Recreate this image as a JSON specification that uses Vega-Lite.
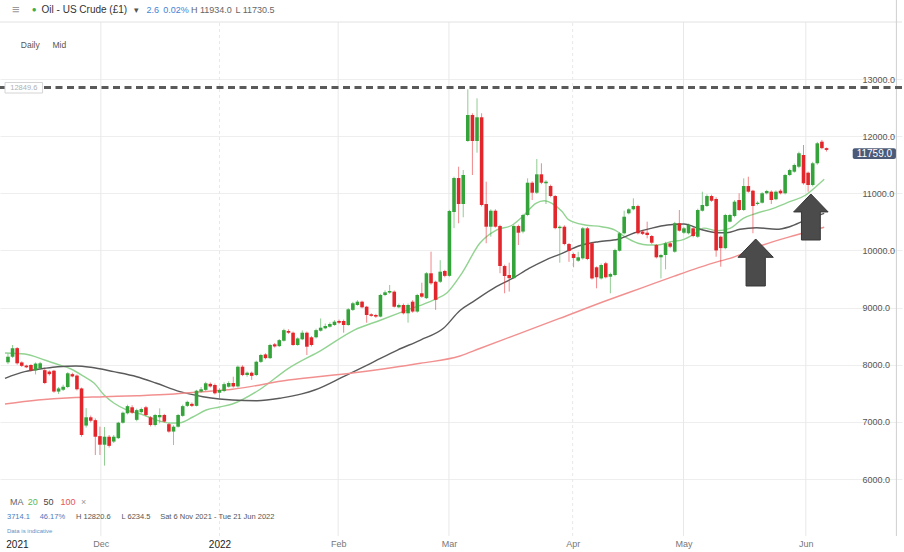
{
"$schema":"https://vega.github.io/schema/vega-lite/v6.json",
"width":902,"height":536,
"autosize":{"type":"none"},
"padding":{"left":0,"top":0,"right":2,"bottom":16},
"background":"white",
"config":{"view":{"stroke":null},"font":"Liberation Sans"},
"datasets":{
"candles":[
{"i":0,"o":8042,"h":8190,"l":8010,"c":8140},{"i":1,"o":8140,"h":8345,"l":8120,"c":8287},{"i":2,"o":8290,"h":8310,"l":8000,"c":8025},{"i":3,"o":8040,"h":8060,"l":7960,"c":7980},{"i":4,"o":7985,"h":8000,"l":7940,"c":7955},{"i":5,"o":7995,"h":8010,"l":7880,"c":7900},{"i":6,"o":7900,"h":8040,"l":7830,"c":8020},{"i":7,"o":7940,"h":8050,"l":7920,"c":8025},{"i":8,"o":7905,"h":7930,"l":7660,"c":7680},{"i":9,"o":7880,"h":7900,"l":7810,"c":7835},
{"i":10,"o":7895,"h":7910,"l":7510,"c":7530},{"i":11,"o":7530,"h":7610,"l":7490,"c":7585},{"i":12,"o":7560,"h":7650,"l":7540,"c":7615},{"i":13,"o":7610,"h":7870,"l":7590,"c":7850},{"i":14,"o":7835,"h":7860,"l":7780,"c":7795},{"i":15,"o":7810,"h":7830,"l":7550,"c":7570},{"i":16,"o":7585,"h":7600,"l":6740,"c":6770},{"i":17,"o":6935,"h":7240,"l":6900,"c":7080},{"i":18,"o":7080,"h":7110,"l":6990,"c":7020},{"i":19,"o":7030,"h":7060,"l":6420,"c":6740},
{"i":20,"o":6750,"h":6915,"l":6420,"c":6600},{"i":21,"o":6600,"h":6910,"l":6234,"c":6740},{"i":22,"o":6740,"h":6770,"l":6550,"c":6580},{"i":23,"o":6655,"h":6770,"l":6630,"c":6740},{"i":24,"o":6715,"h":7000,"l":6700,"c":6985},{"i":25,"o":6985,"h":7180,"l":6970,"c":7160},{"i":26,"o":7150,"h":7300,"l":7130,"c":7275},{"i":27,"o":7255,"h":7290,"l":7140,"c":7160},{"i":28,"o":7035,"h":7230,"l":7010,"c":7205},{"i":29,"o":7170,"h":7250,"l":7150,"c":7225},
{"i":30,"o":7255,"h":7280,"l":7100,"c":7120},{"i":31,"o":7080,"h":7100,"l":6920,"c":6945},{"i":32,"o":6945,"h":7140,"l":6920,"c":7120},{"i":33,"o":7080,"h":7237,"l":6975,"c":7120},{"i":34,"o":7120,"h":7140,"l":6990,"c":7005},{"i":35,"o":6960,"h":6980,"l":6810,"c":6830},{"i":36,"o":6830,"h":6940,"l":6595,"c":6915},{"i":37,"o":6915,"h":7140,"l":6900,"c":7120},{"i":38,"o":7105,"h":7300,"l":7090,"c":7275},{"i":39,"o":7280,"h":7370,"l":7260,"c":7350},
{"i":40,"o":7315,"h":7340,"l":7260,"c":7280},{"i":41,"o":7280,"h":7560,"l":7270,"c":7545},{"i":42,"o":7530,"h":7610,"l":7510,"c":7570},{"i":43,"o":7560,"h":7700,"l":7540,"c":7675},{"i":44,"o":7665,"h":7690,"l":7600,"c":7620},{"i":45,"o":7645,"h":7670,"l":7480,"c":7500},{"i":46,"o":7510,"h":7590,"l":7382,"c":7557},{"i":47,"o":7540,"h":7690,"l":7520,"c":7660},{"i":48,"o":7615,"h":7710,"l":7600,"c":7680},{"i":49,"o":7680,"h":7790,"l":7600,"c":7620},
{"i":50,"o":7620,"h":7985,"l":7600,"c":7965},{"i":51,"o":7965,"h":7990,"l":7800,"c":7820},{"i":52,"o":7820,"h":7880,"l":7790,"c":7860},{"i":53,"o":7860,"h":7880,"l":7735,"c":7805},{"i":54,"o":7820,"h":8070,"l":7800,"c":8050},{"i":55,"o":8050,"h":8190,"l":8030,"c":8170},{"i":56,"o":8180,"h":8200,"l":8095,"c":8115},{"i":57,"o":8115,"h":8365,"l":8100,"c":8345},{"i":58,"o":8357,"h":8380,"l":8300,"c":8320},{"i":59,"o":8325,"h":8450,"l":8310,"c":8430},
{"i":60,"o":8420,"h":8630,"l":8405,"c":8605},{"i":61,"o":8590,"h":8620,"l":8540,"c":8560},{"i":62,"o":8560,"h":8580,"l":8330,"c":8345},{"i":63,"o":8345,"h":8480,"l":8330,"c":8460},{"i":64,"o":8445,"h":8600,"l":8430,"c":8560},{"i":65,"o":8560,"h":8580,"l":8170,"c":8315},{"i":66,"o":8480,"h":8500,"l":8320,"c":8345},{"i":67,"o":8480,"h":8630,"l":8460,"c":8605},{"i":68,"o":8595,"h":8810,"l":8580,"c":8648},{"i":69,"o":8637,"h":8720,"l":8620,"c":8677},
{"i":70,"o":8665,"h":8740,"l":8650,"c":8712},{"i":71,"o":8695,"h":8780,"l":8680,"c":8753},{"i":72,"o":8765,"h":8790,"l":8710,"c":8735},{"i":73,"o":8765,"h":8790,"l":8560,"c":8695},{"i":74,"o":8695,"h":8990,"l":8680,"c":8970},{"i":75,"o":8960,"h":9100,"l":8940,"c":9075},{"i":76,"o":9045,"h":9130,"l":9030,"c":9103},{"i":77,"o":9103,"h":9120,"l":8990,"c":9005},{"i":78,"o":9015,"h":9030,"l":8735,"c":8870},{"i":79,"o":8882,"h":8900,"l":8840,"c":8855},
{"i":80,"o":8870,"h":8890,"l":8820,"c":8842},{"i":81,"o":8842,"h":9240,"l":8830,"c":9220},{"i":82,"o":9220,"h":9300,"l":9200,"c":9267},{"i":83,"o":9262,"h":9395,"l":9240,"c":9290},{"i":84,"o":9278,"h":9300,"l":9000,"c":9015},{"i":85,"o":9005,"h":9070,"l":8990,"c":9045},{"i":86,"o":9045,"h":9070,"l":8880,"c":8900},{"i":87,"o":8900,"h":9070,"l":8735,"c":9045},{"i":88,"o":9103,"h":9130,"l":8910,"c":8930},{"i":89,"o":8930,"h":9240,"l":8910,"c":9220},
{"i":90,"o":9250,"h":9435,"l":9170,"c":9190},{"i":91,"o":9165,"h":9620,"l":9150,"c":9600},{"i":92,"o":9600,"h":9978,"l":9400,"c":9425},{"i":93,"o":9452,"h":9470,"l":8960,"c":9135},{"i":94,"o":9452,"h":9830,"l":9430,"c":9628},{"i":95,"o":9640,"h":9660,"l":9530,"c":9555},{"i":96,"o":9555,"h":10710,"l":9540,"c":10690},{"i":97,"o":10672,"h":11290,"l":10390,"c":11267},{"i":98,"o":11267,"h":11465,"l":10475,"c":10812},{"i":99,"o":10812,"h":11407,"l":10580,"c":11320},
{"i":100,"o":11915,"h":12820,"l":11900,"c":12370},{"i":101,"o":12370,"h":12400,"l":11320,"c":11915},{"i":102,"o":11915,"h":12662,"l":11710,"c":12330},{"i":103,"o":12330,"h":12400,"l":10770,"c":10795},{"i":104,"o":10812,"h":11203,"l":10125,"c":10415},{"i":105,"o":10415,"h":10720,"l":10240,"c":10695},{"i":106,"o":10695,"h":10720,"l":10400,"c":10415},{"i":107,"o":10427,"h":10450,"l":9600,"c":9727},{"i":108,"o":9727,"h":9750,"l":9250,"c":9552},{"i":109,"o":9570,"h":9785,"l":9280,"c":9515},
{"i":110,"o":9515,"h":10450,"l":9500,"c":10427},{"i":111,"o":10427,"h":10450,"l":10095,"c":10310},{"i":112,"o":10330,"h":10640,"l":10300,"c":10620},{"i":113,"o":10620,"h":11262,"l":10600,"c":11185},{"i":114,"o":11185,"h":11210,"l":10882,"c":11010},{"i":115,"o":11010,"h":11600,"l":10990,"c":11332},{"i":116,"o":11332,"h":11525,"l":11160,"c":11185},{"i":117,"o":11175,"h":11230,"l":10812,"c":11203},{"i":118,"o":11127,"h":11150,"l":10930,"c":10952},{"i":119,"o":10952,"h":10970,"l":10370,"c":10390},
{"i":120,"o":10390,"h":10440,"l":9785,"c":10415},{"i":121,"o":10415,"h":10440,"l":10090,"c":10112},{"i":122,"o":10112,"h":10130,"l":9800,"c":9990},{"i":123,"o":9937,"h":9960,"l":9705,"c":9867},{"i":124,"o":9820,"h":9978,"l":9800,"c":9880},{"i":125,"o":9862,"h":10410,"l":9840,"c":10387},{"i":126,"o":10387,"h":10410,"l":9830,"c":9850},{"i":127,"o":10125,"h":10150,"l":9490,"c":9510},{"i":128,"o":9705,"h":9720,"l":9337,"c":9530},{"i":129,"o":9510,"h":9770,"l":9490,"c":9745},
{"i":130,"o":9775,"h":9800,"l":9510,"c":9530},{"i":131,"o":9540,"h":9610,"l":9250,"c":9587},{"i":132,"o":9570,"h":10030,"l":9550,"c":10007},{"i":133,"o":9995,"h":10320,"l":9980,"c":10300},{"i":134,"o":10300,"h":10695,"l":10280,"c":10590},{"i":135,"o":10650,"h":10740,"l":10630,"c":10720},{"i":136,"o":10720,"h":10912,"l":10700,"c":10777},{"i":137,"o":10777,"h":10800,"l":10280,"c":10300},{"i":138,"o":10330,"h":10350,"l":10270,"c":10290},{"i":139,"o":10310,"h":10503,"l":10212,"c":10270},
{"i":140,"o":10252,"h":10270,"l":10110,"c":10135},{"i":141,"o":10095,"h":10110,"l":9860,"c":9880},{"i":142,"o":9880,"h":9940,"l":9510,"c":9920},{"i":143,"o":9920,"h":10150,"l":9670,"c":10125},{"i":144,"o":10125,"h":10150,"l":10040,"c":10065},{"i":145,"o":9978,"h":10500,"l":9960,"c":10475},{"i":146,"o":10475,"h":10707,"l":10330,"c":10345},{"i":147,"o":10310,"h":10410,"l":10290,"c":10387},{"i":148,"o":10300,"h":10470,"l":10280,"c":10445},{"i":149,"o":10387,"h":10410,"l":10230,"c":10252},
{"i":150,"o":10240,"h":10730,"l":10220,"c":10707},{"i":151,"o":10695,"h":11028,"l":10680,"c":10795},{"i":152,"o":10777,"h":10980,"l":10760,"c":10952},{"i":153,"o":10952,"h":10975,"l":10850,"c":10870},{"i":154,"o":10900,"h":10930,"l":9890,"c":10000},{"i":155,"o":10240,"h":10260,"l":9715,"c":10040},{"i":156,"o":10040,"h":10640,"l":10020,"c":10620},{"i":157,"o":10503,"h":10640,"l":10490,"c":10620},{"i":158,"o":10602,"h":10880,"l":10580,"c":10853},{"i":159,"o":10882,"h":11000,"l":10690,"c":10707},
{"i":160,"o":10707,"h":11262,"l":10690,"c":11127},{"i":161,"o":11127,"h":11290,"l":11010,"c":11028},{"i":162,"o":11045,"h":11060,"l":10300,"c":10777},{"i":163,"o":10812,"h":10860,"l":10790,"c":10835},{"i":164,"o":10835,"h":11020,"l":10820,"c":11000},{"i":165,"o":11000,"h":11060,"l":10980,"c":11040},{"i":166,"o":11028,"h":11050,"l":10812,"c":10882},{"i":167,"o":10895,"h":11050,"l":10880,"c":11028},{"i":168,"o":11045,"h":11070,"l":10980,"c":11000},{"i":169,"o":11000,"h":11340,"l":10980,"c":11320},
{"i":170,"o":11320,"h":11430,"l":11300,"c":11407},{"i":171,"o":11378,"h":11520,"l":11360,"c":11495},{"i":172,"o":11465,"h":11728,"l":11440,"c":11700},{"i":173,"o":11670,"h":11845,"l":11150,"c":11175},{"i":174,"o":11360,"h":11380,"l":11028,"c":11145},{"i":175,"o":11145,"h":11550,"l":11120,"c":11525},{"i":176,"o":11525,"h":11900,"l":11500,"c":11875},{"i":177,"o":11903,"h":11934,"l":11770,"c":11790},{"i":178,"o":11790,"h":11800,"l":11730,"c":11759}
],
"ma":[
{"ma":"20","i":-0.65,"v":8205},{"ma":"20","i":3.66,"v":8187},{"ma":"20","i":7.96,"v":8082},{"ma":"20","i":11.2,"v":7995},{"ma":"20","i":13.7,"v":7925},{"ma":"20","i":16.6,"v":7790},{"ma":"20","i":18.7,"v":7680},{"ma":"20","i":20.9,"v":7470},{"ma":"20","i":23.0,"v":7330},{"ma":"20","i":25.9,"v":7207},{"ma":"20","i":29.5,"v":7120},{"ma":"20","i":32.3,"v":7032},{"ma":"20","i":35.2,"v":6980},{"ma":"20","i":37.4,"v":6985},{"ma":"20","i":40.2,"v":7085},{"ma":"20","i":43.1,"v":7207},{"ma":"20","i":46.0,"v":7260},{"ma":"20","i":48.8,"v":7312},{"ma":"20","i":54.6,"v":7557},{"ma":"20","i":61.0,"v":7937},{"ma":"20","i":68.2,"v":8257},{"ma":"20","i":75.3,"v":8607},{"ma":"20","i":81.1,"v":8782},{"ma":"20","i":86.8,"v":8957},{"ma":"20","i":92.5,"v":9132},{"ma":"20","i":95.5,"v":9260},{"ma":"20","i":98.7,"v":9600},{"ma":"20","i":102.6,"v":10125},{"ma":"20","i":106.2,"v":10357},{"ma":"20","i":109.7,"v":10445},{"ma":"20","i":111.9,"v":10590},{"ma":"20","i":114.8,"v":10825},{"ma":"20","i":116.6,"v":10870},{"ma":"20","i":118.3,"v":10825},{"ma":"20","i":120.5,"v":10680},{"ma":"20","i":121.9,"v":10540},{"ma":"20","i":125.5,"v":10445},{"ma":"20","i":129.1,"v":10415},{"ma":"20","i":132.0,"v":10357},{"ma":"20","i":134.1,"v":10240},{"ma":"20","i":137.0,"v":10125},{"ma":"20","i":139.1,"v":10095},{"ma":"20","i":141.3,"v":10095},{"ma":"20","i":144.2,"v":10153},{"ma":"20","i":147.0,"v":10195},{"ma":"20","i":149.2,"v":10287},{"ma":"20","i":151.3,"v":10390},{"ma":"20","i":154.2,"v":10345},{"ma":"20","i":157.0,"v":10387},{"ma":"20","i":159.9,"v":10562},{"ma":"20","i":162.8,"v":10650},{"ma":"20","i":166.4,"v":10737},{"ma":"20","i":170.0,"v":10853},{"ma":"20","i":173.5,"v":10970},{"ma":"20","i":175.7,"v":11115},{"ma":"20","i":177.5,"v":11245},
{"ma":"50","i":-0.65,"v":7762},{"ma":"50","i":3.66,"v":7878},{"ma":"50","i":7.96,"v":7937},{"ma":"50","i":10.8,"v":7965},{"ma":"50","i":14.8,"v":7977},{"ma":"50","i":18.0,"v":7955},{"ma":"50","i":23.0,"v":7878},{"ma":"50","i":28.0,"v":7790},{"ma":"50","i":32.3,"v":7675},{"ma":"50","i":37.4,"v":7528},{"ma":"50","i":42.4,"v":7440},{"ma":"50","i":46.0,"v":7400},{"ma":"50","i":48.8,"v":7382},{"ma":"50","i":54.2,"v":7370},{"ma":"50","i":59.6,"v":7420},{"ma":"50","i":63.9,"v":7490},{"ma":"50","i":66.7,"v":7557},{"ma":"50","i":73.2,"v":7802},{"ma":"50","i":78.9,"v":8025},{"ma":"50","i":84.7,"v":8257},{"ma":"50","i":89.7,"v":8432},{"ma":"50","i":94.7,"v":8637},{"ma":"50","i":98.3,"v":8950},{"ma":"50","i":101.1,"v":9100},{"ma":"50","i":106.2,"v":9365},{"ma":"50","i":109.7,"v":9510},{"ma":"50","i":113.3,"v":9685},{"ma":"50","i":116.9,"v":9832},{"ma":"50","i":120.5,"v":9948},{"ma":"50","i":124.1,"v":10077},{"ma":"50","i":128.4,"v":10153},{"ma":"50","i":132.7,"v":10195},{"ma":"50","i":136.3,"v":10310},{"ma":"50","i":139.8,"v":10387},{"ma":"50","i":143.4,"v":10445},{"ma":"50","i":147.0,"v":10462},{"ma":"50","i":150.6,"v":10370},{"ma":"50","i":154.2,"v":10310},{"ma":"50","i":156.3,"v":10310},{"ma":"50","i":159.2,"v":10370},{"ma":"50","i":162.8,"v":10397},{"ma":"50","i":167.1,"v":10370},{"ma":"50","i":170.0,"v":10415},{"ma":"50","i":173.5,"v":10532},{"ma":"50","i":177.5,"v":10650},
{"ma":"100","i":-0.65,"v":7312},{"ma":"100","i":6.5,"v":7382},{"ma":"100","i":13.7,"v":7423},{"ma":"100","i":20.9,"v":7440},{"ma":"100","i":28.0,"v":7458},{"ma":"100","i":35.2,"v":7482},{"ma":"100","i":42.4,"v":7528},{"ma":"100","i":48.8,"v":7570},{"ma":"100","i":61.0,"v":7732},{"ma":"100","i":75.3,"v":7860},{"ma":"100","i":89.7,"v":8025},{"ma":"100","i":98.3,"v":8152},{"ma":"100","i":102.6,"v":8284},{"ma":"100","i":111.2,"v":8545},{"ma":"100","i":119.8,"v":8805},{"ma":"100","i":130.5,"v":9132},{"ma":"100","i":137.7,"v":9340},{"ma":"100","i":144.9,"v":9550},{"ma":"100","i":149.9,"v":9690},{"ma":"100","i":154.2,"v":9800},{"ma":"100","i":157.0,"v":9860},{"ma":"100","i":164.2,"v":10095},{"ma":"100","i":171.4,"v":10270},{"ma":"100","i":177.5,"v":10405}
],
"months":[{"m":"Dec","i":20.2},{"m":"2022","i":46.0},{"m":"Feb","i":71.8},{"m":"Mar","i":95.9},{"m":"Apr","i":122.8},{"m":"May","i":146.9},{"m":"Jun","i":173.5}]
},
"layer":[
{"data":{"name":"candles"},"mark":{"type":"bar","size":3.6,"opacity":0},
 "encoding":{"x":{"field":"i","type":"quantitative","scale":{"domain":[-0.645,193.33],"nice":false,"zero":false},
   "axis":{"orient":"bottom","values":[1.94,20.2,46.0,71.8,95.9,122.8,146.9,173.5],
    "labelExpr":"datum.value < 5 ? '2021' : datum.value < 30 ? 'Dec' : datum.value < 60 ? '2022' : datum.value < 80 ? 'Feb' : datum.value < 110 ? 'Mar' : datum.value < 135 ? 'Apr' : datum.value < 160 ? 'May' : 'Jun'",
    "title":null,"grid":false,"domain":false,"ticks":false,"labelPadding":3,"labelFlush":false,"labelOverlap":false,"labelFont":"Liberation Sans",
    "labelFontSize":{"condition":{"test":"datum.value < 5 || (datum.value > 40 && datum.value < 60)","value":10},"value":9},
    "labelColor":{"condition":{"test":"datum.value < 5 || (datum.value > 40 && datum.value < 60)","value":"#222222"},"value":"#777777"}}},
  "y":{"field":"o","type":"quantitative","scale":{"domain":[5002.5,14382.5],"nice":false,"zero":false},
   "axis":{"orient":"right","offset":-42,"values":[6000,7000,8000,9000,10000,11000,12000,13000],"format":".1f","title":null,"grid":true,"gridColor":"#eeeeee","domain":false,"ticks":false,"labelPadding":2,"labelAlign":"left","labelFont":"Liberation Sans","labelFontSize":9,"labelColor":"#555555"}},
  "y2":{"field":"c"}}},
{"data":{"name":"months"},"mark":{"type":"rule","color":"#e8e8e8","strokeWidth":1},
 "encoding":{"x":{"field":"i","type":"quantitative"},
  "y":{"datum":5002.5,"type":"quantitative"},"y2":{"datum":13997.5},
  "strokeDash":{"condition":{"test":"datum.m=='2022'||datum.m=='Apr'","value":[3,3]},"value":[1,0]}}},
{"data":{"values":[{}]},"mark":{"type":"rule","color":"#e2e2e2"},
 "encoding":{"y":{"datum":13997.5,"type":"quantitative"}}},
{"data":{"values":[{}]},"mark":{"type":"rule","color":"#cfcfcf"},
 "encoding":{"x":{"datum":193.2,"type":"quantitative"}}},
{"data":{"values":[{}]},"mark":{"type":"rule","color":"#5a5a5a","strokeWidth":3,"strokeDash":[7,4.5]},
 "encoding":{"y":{"datum":12849.6,"type":"quantitative"}}},
{"data":{"name":"ma"},"mark":{"type":"line","strokeWidth":1.4,"interpolate":"monotone"},
 "encoding":{"x":{"field":"i","type":"quantitative"},
  "y":{"field":"v","type":"quantitative"},
  "color":{"field":"ma","type":"nominal","scale":{"domain":["20","50","100"],"range":["#92d392","#5a5a5a","#f29090"]},"legend":null}}},
{"data":{"name":"candles"},"mark":{"type":"rule","strokeWidth":1,"opacity":0.55},
 "encoding":{"x":{"field":"i","type":"quantitative"},
  "y":{"field":"l","type":"quantitative"},"y2":{"field":"h"},
  "color":{"condition":{"test":"datum.c >= datum.o","value":"#34a33a"},"value":"#e3262c"}}},
{"data":{"name":"candles"},"mark":{"type":"bar","size":3.6},
 "encoding":{"x":{"field":"i","type":"quantitative"},
  "y":{"field":"o","type":"quantitative"},
  "y2":{"field":"c"},
  "color":{"condition":{"test":"datum.c >= datum.o","value":"#34a33a"},"value":"#e3262c"}}},
{"data":{"values":[{}]},"mark":{"type":"point","shape":"M0,-1L0.75,-0.22L0.41,-0.22L0.41,1L-0.41,1L-0.41,-0.22L-0.75,-0.22Z","filled":true,"fill":"#4b4b4b","stroke":"#363636","strokeWidth":1,"size":2209,"opacity":1},
 "encoding":{"x":{"datum":162.6,"type":"quantitative"},"y":{"datum":9789,"type":"quantitative"}}},
{"data":{"values":[{}]},"mark":{"type":"point","shape":"M0,-1L0.75,-0.22L0.41,-0.22L0.41,1L-0.41,1L-0.41,-0.22L-0.75,-0.22Z","filled":true,"fill":"#4b4b4b","stroke":"#363636","strokeWidth":1,"size":2116,"opacity":1},
 "encoding":{"x":{"datum":174.6,"type":"quantitative"},"y":{"datum":10585,"type":"quantitative"}}},
{"data":{"values":[{}]},"mark":{"type":"rect","fill":"white","stroke":"#d4d4d4","strokeWidth":1},
 "encoding":{"x":{"datum":-0.645,"type":"quantitative"},"x2":{"datum":7.53},"y":{"datum":12939,"type":"quantitative"},"y2":{"datum":12755}}},
{"data":{"values":[{}]},"mark":{"type":"text","text":"12849.6","align":"center","baseline":"middle","fontSize":7.5,"color":"#b0b0b0"},
 "encoding":{"x":{"datum":3.44,"type":"quantitative"},"y":{"datum":12849.6,"type":"quantitative"}}},
{"data":{"values":[{}]},"mark":{"type":"rect","fill":"#4a5a77","cornerRadius":2},
 "encoding":{"x":{"datum":183.7,"type":"quantitative"},"x2":{"datum":193.1},"y":{"datum":11787,"type":"quantitative"},"y2":{"datum":11600}}},
{"data":{"values":[{}]},"mark":{"type":"text","text":"11759.0","align":"center","baseline":"middle","fontSize":10,"color":"white"},
 "encoding":{"x":{"datum":188.4,"type":"quantitative"},"y":{"datum":11693,"type":"quantitative"}}},
{"data":{"values":[{}]},"mark":{"type":"text","text":"≡","align":"left","baseline":"middle","fontSize":13,"color":"#9a9a9a"},"encoding":{"x":{"datum":0.86,"type":"quantitative"},"y":{"datum":14207.5,"type":"quantitative"}}},
{"data":{"values":[{}]},"mark":{"type":"text","text":"●","align":"center","baseline":"middle","fontSize":8,"color":"#3fae49"},"encoding":{"x":{"datum":5.7,"type":"quantitative"},"y":{"datum":14207.5,"type":"quantitative"}}},
{"data":{"values":[{}]},"mark":{"type":"text","text":"Oil - US Crude (£1)","align":"left","baseline":"middle","fontSize":10,"color":"#333333"},"encoding":{"x":{"datum":7.31,"type":"quantitative"},"y":{"datum":14207.5,"type":"quantitative"}}},
{"data":{"values":[{}]},"mark":{"type":"text","text":"▾","align":"left","baseline":"middle","fontSize":9,"color":"#555555"},"encoding":{"x":{"datum":27.3,"type":"quantitative"},"y":{"datum":14207.5,"type":"quantitative"}}},
{"data":{"values":[{}]},"mark":{"type":"text","text":"2.6","align":"left","baseline":"middle","fontSize":9,"color":"#3f83d6"},"encoding":{"x":{"datum":30.1,"type":"quantitative"},"y":{"datum":14207.5,"type":"quantitative"}}},
{"data":{"values":[{}]},"mark":{"type":"text","text":"0.02%","align":"left","baseline":"middle","fontSize":9,"color":"#3f83d6"},"encoding":{"x":{"datum":33.76,"type":"quantitative"},"y":{"datum":14207.5,"type":"quantitative"}}},
{"data":{"values":[{}]},"mark":{"type":"text","text":"H 11934.0","align":"left","baseline":"middle","fontSize":9,"color":"#666666"},"encoding":{"x":{"datum":39.8,"type":"quantitative"},"y":{"datum":14207.5,"type":"quantitative"}}},
{"data":{"values":[{}]},"mark":{"type":"text","text":"L 11730.5","align":"left","baseline":"middle","fontSize":9,"color":"#666666"},"encoding":{"x":{"datum":49.5,"type":"quantitative"},"y":{"datum":14207.5,"type":"quantitative"}}},
{"data":{"values":[{}]},"mark":{"type":"text","text":"Daily","align":"left","baseline":"middle","fontSize":8.5,"color":"#555555"},"encoding":{"x":{"datum":2.8,"type":"quantitative"},"y":{"datum":13595,"type":"quantitative"}}},
{"data":{"values":[{}]},"mark":{"type":"text","text":"Mid","align":"left","baseline":"middle","fontSize":8.5,"color":"#555555"},"encoding":{"x":{"datum":9.68,"type":"quantitative"},"y":{"datum":13595,"type":"quantitative"}}},
{"data":{"values":[{}]},"mark":{"type":"text","text":"MA","align":"left","baseline":"middle","fontSize":9,"color":"#666666"},"encoding":{"x":{"datum":0.43,"type":"quantitative"},"y":{"datum":5597.5,"type":"quantitative"}}},
{"data":{"values":[{}]},"mark":{"type":"text","text":"20","align":"left","baseline":"middle","fontSize":9,"color":"#5cb85c"},"encoding":{"x":{"datum":4.3,"type":"quantitative"},"y":{"datum":5597.5,"type":"quantitative"}}},
{"data":{"values":[{}]},"mark":{"type":"text","text":"50","align":"left","baseline":"middle","fontSize":9,"color":"#444444"},"encoding":{"x":{"datum":7.74,"type":"quantitative"},"y":{"datum":5597.5,"type":"quantitative"}}},
{"data":{"values":[{}]},"mark":{"type":"text","text":"100","align":"left","baseline":"middle","fontSize":9,"color":"#e8545a"},"encoding":{"x":{"datum":11.4,"type":"quantitative"},"y":{"datum":5597.5,"type":"quantitative"}}},
{"data":{"values":[{}]},"mark":{"type":"text","text":"×","align":"left","baseline":"middle","fontSize":9,"color":"#999999"},"encoding":{"x":{"datum":15.9,"type":"quantitative"},"y":{"datum":5597.5,"type":"quantitative"}}},
{"data":{"values":[{}]},"mark":{"type":"text","text":"3714.1","align":"left","baseline":"middle","fontSize":7.5,"color":"#4a7cc0"},"encoding":{"x":{"datum":-0.22,"type":"quantitative"},"y":{"datum":5335,"type":"quantitative"}}},
{"data":{"values":[{}]},"mark":{"type":"text","text":"46.17%","align":"left","baseline":"middle","fontSize":7.5,"color":"#4a7cc0"},"encoding":{"x":{"datum":6.9,"type":"quantitative"},"y":{"datum":5335,"type":"quantitative"}}},
{"data":{"values":[{}]},"mark":{"type":"text","text":"H 12820.6","align":"left","baseline":"middle","fontSize":7.5,"color":"#555555"},"encoding":{"x":{"datum":14.8,"type":"quantitative"},"y":{"datum":5335,"type":"quantitative"}}},
{"data":{"values":[{}]},"mark":{"type":"text","text":"L 6234.5","align":"left","baseline":"middle","fontSize":7.5,"color":"#555555"},"encoding":{"x":{"datum":24.7,"type":"quantitative"},"y":{"datum":5335,"type":"quantitative"}}},
{"data":{"values":[{}]},"mark":{"type":"text","text":"Sat 6 Nov 2021 - Tue 21 Jun 2022","align":"left","baseline":"middle","fontSize":7.5,"color":"#555555"},"encoding":{"x":{"datum":33.1,"type":"quantitative"},"y":{"datum":5335,"type":"quantitative"}}},
{"data":{"values":[{}]},"mark":{"type":"text","text":"Data is indicative","align":"left","baseline":"middle","fontSize":6,"color":"#6b8fc2"},"encoding":{"x":{"datum":-0.22,"type":"quantitative"},"y":{"datum":5090,"type":"quantitative"}}}
]
}
